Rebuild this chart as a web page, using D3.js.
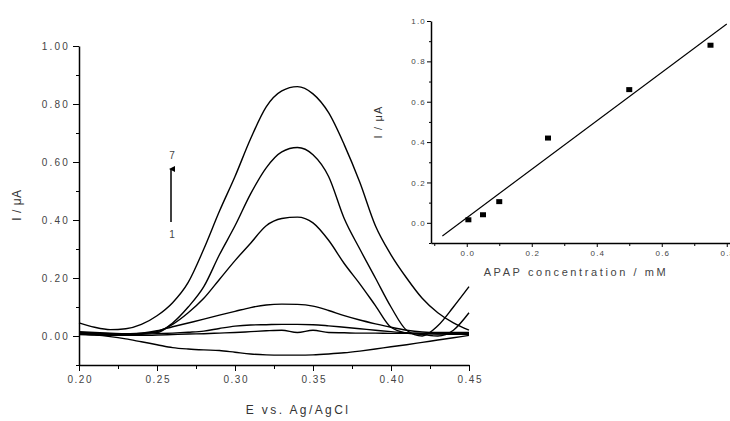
<!DOCTYPE html>
<html><head><meta charset="utf-8">
<script src="https://cdn.jsdelivr.net/npm/d3@7"></script>
<style>body{margin:0;background:#fff}svg{display:block}text{font-family:"Liberation Sans",Arial,sans-serif}</style>
</head><body><svg id="c" width="730" height="421"></svg>
<script>
// ---- main chart data (DPV curves) ----
const potentials = [0.20,0.21,0.22,0.23,0.24,0.25,0.26,0.27,0.28,0.29,0.30,0.31,0.32,0.33,0.34,0.35,0.36,0.37,0.38,0.39,0.40,0.41,0.42,0.43,0.44,0.45];
const curve1 = [0.008,0.004,-0.002,-0.010,-0.020,-0.030,-0.040,-0.045,-0.048,-0.050,-0.056,-0.062,-0.065,-0.066,-0.066,-0.065,-0.062,-0.058,-0.052,-0.045,-0.037,-0.030,-0.022,-0.014,-0.006,0.002];
const curve2 = [0.005,0.003,0.002,0.002,0.002,0.003,0.005,0.007,0.008,0.010,0.012,0.015,0.018,0.020,0.012,0.020,0.012,0.011,0.010,0.010,0.009,0.009,0.008,0.007,0.006,0.006];
const curve3 = [0.008,0.006,0.005,0.005,0.006,0.008,0.010,0.013,0.017,0.026,0.034,0.038,0.039,0.040,0.040,0.039,0.035,0.030,0.025,0.020,0.015,0.011,0.009,0.008,0.008,0.008];
const curve4 = [0.010,0.008,0.006,0.006,0.010,0.018,0.032,0.045,0.058,0.072,0.085,0.098,0.107,0.110,0.109,0.103,0.088,0.070,0.055,0.042,0.030,0.020,0.014,0.012,0.012,0.012];
const curve5 = [0.012,0.010,0.008,0.006,0.008,0.015,0.040,0.080,0.130,0.195,0.260,0.320,0.380,0.405,0.410,0.390,0.330,0.250,0.180,0.105,0.030,0.010,0.005,0.000,0.020,0.080];
const curve6 = [0.015,0.012,0.010,0.008,0.010,0.012,0.045,0.100,0.170,0.280,0.380,0.490,0.580,0.635,0.650,0.625,0.550,0.405,0.300,0.200,0.100,0.020,0.000,0.035,0.100,0.170];
const curve7 = [0.045,0.030,0.022,0.025,0.040,0.070,0.115,0.185,0.300,0.430,0.550,0.680,0.790,0.845,0.860,0.835,0.770,0.660,0.530,0.380,0.280,0.200,0.130,0.080,0.045,0.020];
const curves = [curve1,curve2,curve3,curve4,curve5,curve6,curve7];
const mainXTicks = [0.20,0.25,0.30,0.35,0.40,0.45];
const mainYTicks = [0.00,0.20,0.40,0.60,0.80,1.00];

// ---- inset data (calibration) ----
const concentrations = [0.005,0.05,0.10,0.25,0.50,0.75];
const peakCurrents = [0.015,0.040,0.105,0.420,0.660,0.880];
const fitX = [-0.075,0.80];
const fitY = [-0.065,0.985];
const insetXTicks = [0.0,0.2,0.4,0.6,0.8];
const insetYTicks = [0.0,0.2,0.4,0.6,0.8,1.0];

const svg = d3.select("#c");
const labelColor = "#444";

// ===== main chart =====
const x = d3.scaleLinear().domain([0.2,0.45]).range([79,469]);
const y = d3.scaleLinear().domain([-0.1,1.0]).range([365,46]);

const line = d3.line().x((d,i)=>x(potentials[i])).y(d=>y(d)).curve(d3.curveMonotoneX);
svg.append("g").selectAll("path").data(curves).join("path")
  .attr("d", line).attr("fill","none").attr("stroke","#000").attr("stroke-width",1.4);

// axes
const xAxis = svg.append("g").attr("transform","translate(0,365)");
xAxis.call(d3.axisBottom(x).tickValues(d3.range(0.2,0.4501,0.025)).tickSize(4).tickFormat(""));
xAxis.call(g=>g.select(".domain").remove());
const xMaj = svg.append("g").attr("transform","translate(0,365)")
  .call(d3.axisBottom(x).tickValues(mainXTicks).tickSize(6).tickFormat(d3.format(".2f")).tickSizeOuter(0));
xMaj.selectAll("text").attr("fill",labelColor).attr("font-size",10).attr("letter-spacing",1.5)
  .attr("dy","0.95em").attr("y",8).attr("dx",0.75);
xMaj.select(".domain").attr("stroke-width",1.5);

const yMin = svg.append("g").attr("transform","translate(79,0)")
  .call(d3.axisLeft(y).tickValues([-0.1,0.1,0.3,0.5,0.7,0.9]).tickSize(3).tickFormat(""));
yMin.select(".domain").remove();
const yMaj = svg.append("g").attr("transform","translate(79,0)")
  .call(d3.axisLeft(y).tickValues(mainYTicks).tickSize(6).tickFormat(d3.format(".2f")).tickSizeOuter(0));
yMaj.selectAll("text").attr("fill",labelColor).attr("font-size",10).attr("letter-spacing",2.2).attr("x",-9);
yMaj.select(".domain").attr("stroke-width",1.5);

svg.append("text").attr("x",298).attr("y",414).attr("text-anchor","middle")
  .attr("font-size",12).attr("letter-spacing",2.4).attr("fill","#333").text("E vs. Ag/AgCl");
svg.append("text").attr("transform","translate(21,205) rotate(-90)").attr("text-anchor","middle")
  .attr("font-size",12).attr("letter-spacing",0.5).attr("fill","#333").text("I / μA");

// 1 -> 7 arrow
svg.append("defs").append("marker").attr("id","ah").attr("viewBox","0 0 6 6").attr("refX",3).attr("refY",2)
  .attr("markerWidth",4).attr("markerHeight",4).attr("orient","auto")
  .append("path").attr("d","M0,6 L3,0 L6,6 Z").attr("fill","#000");
svg.append("line").attr("x1",171).attr("x2",171).attr("y1",222).attr("y2",169)
  .attr("stroke","#000").attr("stroke-width",1.5).attr("marker-end","url(#ah)");
svg.append("text").attr("x",172).attr("y",159).attr("text-anchor","middle").attr("font-size",10).attr("fill",labelColor).text("7");
svg.append("text").attr("x",172).attr("y",238).attr("text-anchor","middle").attr("font-size",10).attr("fill",labelColor).text("1");

// ===== inset =====
const ix = d3.scaleLinear().domain([-0.11,0.81]).range([431,730]);
const iy = d3.scaleLinear().domain([-0.1,1.0]).range([243,21]);

const ixMin = svg.append("g").attr("transform","translate(0,243)")
  .call(d3.axisBottom(ix).tickValues([-0.1,0.1,0.3,0.5,0.7]).tickSize(3).tickFormat(""));
ixMin.select(".domain").remove();
const ixMaj = svg.append("g").attr("transform","translate(0,243)")
  .call(d3.axisBottom(ix).tickValues(insetXTicks).tickSize(4).tickFormat(d3.format(".1f")).tickSizeOuter(0));
ixMaj.selectAll("text").attr("fill",labelColor).attr("font-size",8).attr("letter-spacing",1.2).attr("dx",0.6).attr("y",7);
ixMaj.select(".domain").attr("stroke-width",1.5);

const iyMin = svg.append("g").attr("transform","translate(431,0)")
  .call(d3.axisLeft(iy).tickValues([-0.1,0.1,0.3,0.5,0.7,0.9]).tickSize(2).tickFormat(""));
iyMin.select(".domain").remove();
const iyMaj = svg.append("g").attr("transform","translate(431,0)")
  .call(d3.axisLeft(iy).tickValues(insetYTicks).tickSize(4).tickFormat(d3.format(".1f")).tickSizeOuter(0));
iyMaj.selectAll("text").attr("fill",labelColor).attr("font-size",8).attr("letter-spacing",1.2).attr("x",-5);
iyMaj.select(".domain").attr("stroke-width",1.5);

svg.append("path").datum(fitX.map((v,i)=>[v,fitY[i]]))
  .attr("d", d3.line().x(d=>ix(d[0])).y(d=>iy(d[1])))
  .attr("fill","none").attr("stroke","#000").attr("stroke-width",1.1);

svg.append("g").selectAll("rect").data(concentrations).join("rect")
  .attr("x",(d)=>ix(d)-3).attr("y",(d,i)=>iy(peakCurrents[i])-2.5)
  .attr("width",6).attr("height",5).attr("fill","#000");

svg.append("text").attr("x",576).attr("y",276).attr("text-anchor","middle")
  .attr("font-size",11).attr("letter-spacing",2.6).attr("fill",labelColor).text("APAP concentration / mM");
svg.append("text").attr("transform","translate(382,122) rotate(-90)").attr("text-anchor","middle")
  .attr("font-size",11).attr("letter-spacing",1.2).attr("fill","#333").text("I / μA");
</script></body></html>
